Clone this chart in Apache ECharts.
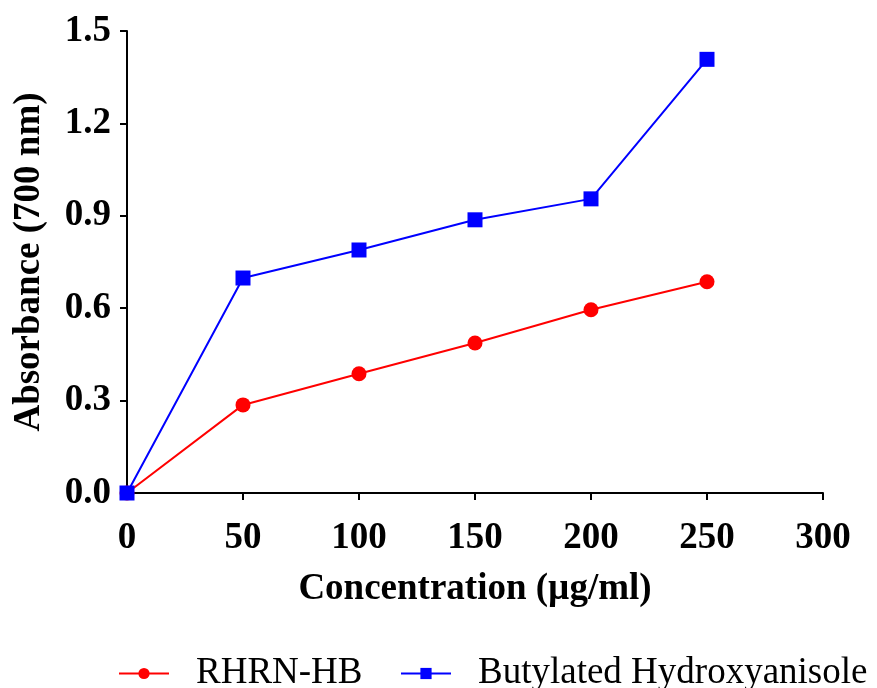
<!DOCTYPE html>
<html><head><meta charset="utf-8">
<script src="https://cdn.jsdelivr.net/npm/echarts@6/dist/echarts.min.js"></script>
<style>html,body{margin:0;padding:0;background:#fff}#c{width:877px;height:688px}</style>
</head><body><div id="c"></div>
<script>
const concentrations = [0, 50, 100, 150, 200, 250];
const rhrnHB = [0, 0.286, 0.387, 0.487, 0.595, 0.686];
const bha = [0, 0.698, 0.789, 0.887, 0.955, 1.408];
const seriesNames = ['RHRN-HB', 'Butylated Hydroxyanisole'];
const xTitle = 'Concentration (µg/ml)';
const yTitle = 'Absorbance (700 nm)';

const chart = echarts.init(document.getElementById('c'), null, {renderer: 'canvas'});
const font = 'Liberation Serif';
const legendBase = {
  top: 655, itemWidth: 50, itemHeight: 14, orient: 'horizontal', padding: 0,
  textStyle: {color: '#000', fontFamily: font, fontSize: 37, padding: [0, 0, 0, 22]}
};
chart.setOption({
  animation: false,
  grid: {left: 127, right: 54, top: 31, bottom: 195, containLabel: false},
  xAxis: {
    type: 'value', min: 0, max: 300, interval: 50,
    axisLine: {show: true, lineStyle: {color: '#000', width: 2}},
    axisTick: {show: true, length: 7, lineStyle: {color: '#000', width: 2}},
    splitLine: {show: false},
    axisLabel: {color: '#000', fontFamily: font, fontWeight: 'bold', fontSize: 37, margin: 27},
    name: xTitle, nameLocation: 'middle', nameGap: 78,
    nameTextStyle: {color: '#000', fontFamily: font, fontWeight: 'bold', fontSize: 37}
  },
  yAxis: {
    type: 'value', min: 0, max: 1.5, interval: 0.3,
    axisLine: {show: true, lineStyle: {color: '#000', width: 2}},
    axisTick: {show: true, length: 7, lineStyle: {color: '#000', width: 2}},
    splitLine: {show: false},
    axisLabel: {color: '#000', fontFamily: font, fontWeight: 'bold', fontSize: 37, margin: 16,
      formatter: v => v.toFixed(1)},
    name: yTitle, nameLocation: 'middle', nameGap: 79,
    nameTextStyle: {color: '#000', fontFamily: font, fontWeight: 'bold', fontSize: 37}
  },
  legend: [
    Object.assign({}, legendBase, {left: 118, data: [seriesNames[0]]}),
    Object.assign({}, legendBase, {left: 400, data: [seriesNames[1]]})
  ],
  series: [
    {name: seriesNames[0], type: 'line', data: concentrations.map((x, i) => [x, rhrnHB[i]]),
     symbol: 'circle', symbolSize: 15, color: '#ff0000', lineStyle: {width: 2, color: '#ff0000'},
     itemStyle: {color: '#ff0000'}},
    {name: seriesNames[1], type: 'line', data: concentrations.map((x, i) => [x, bha[i]]),
     symbol: 'rect', symbolSize: 15, color: '#0000ff', lineStyle: {width: 2, color: '#0000ff'},
     itemStyle: {color: '#0000ff'}}
  ]
});
</script></body></html>
